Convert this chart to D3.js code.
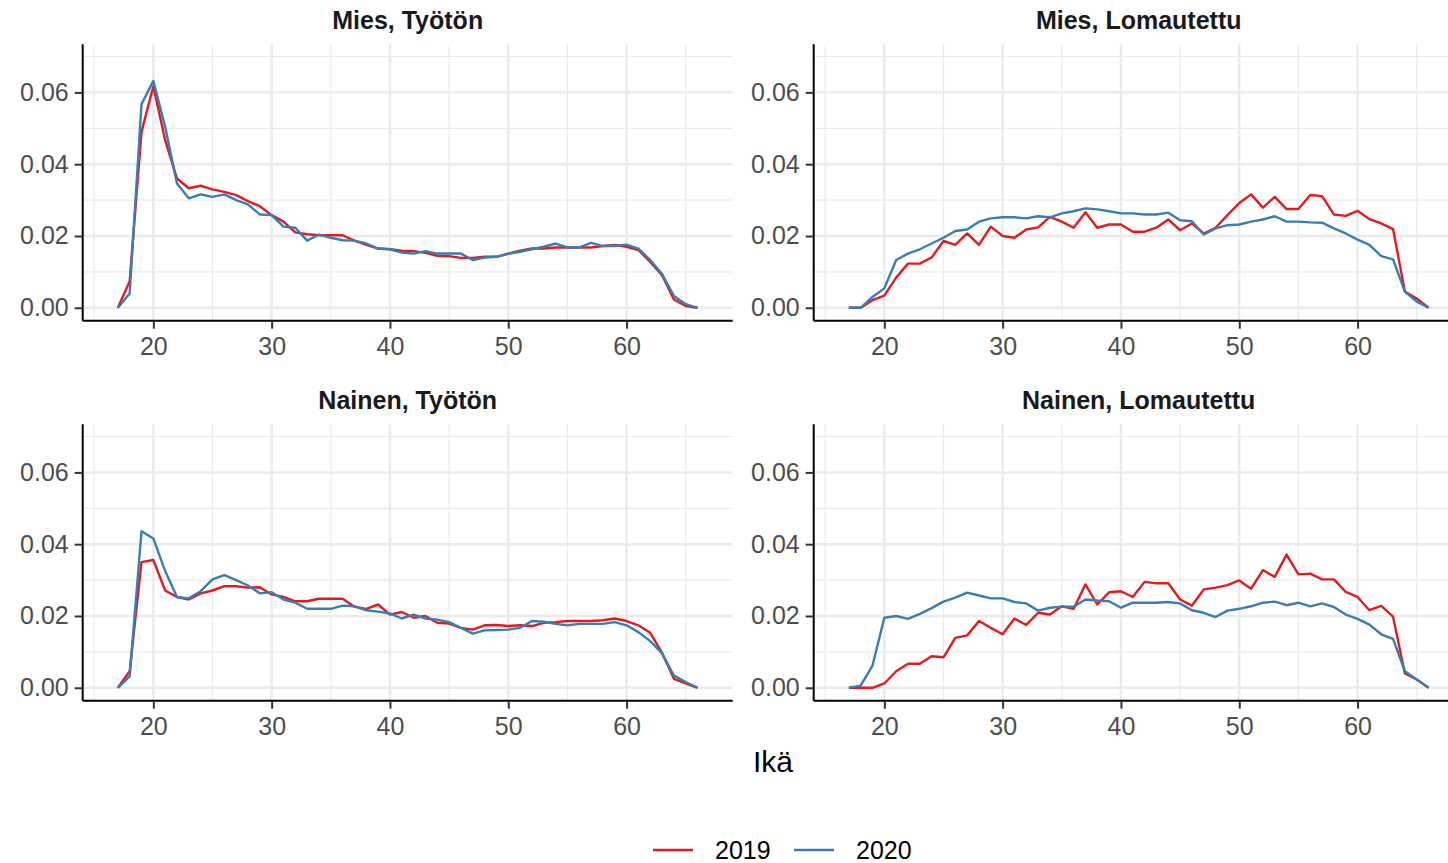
<!DOCTYPE html>
<html>
<head>
<meta charset="utf-8">
<script src="https://cdn.jsdelivr.net/npm/d3@7"></script>
<style>
  html, body { margin: 0; padding: 0; background: #ffffff; }
  svg { display: block; font-family: "Liberation Sans", Arial, sans-serif; }
</style>
</head>
<body>
<svg id="chart" width="1448" height="863"></svg>
<script>
const ages = d3.range(17, 67);
const years = ["2019", "2020"];
const panelTitles = ["Mies, Työtön", "Mies, Lomautettu", "Nainen, Työtön", "Nainen, Lomautettu"];
const xTicks = [20, 30, 40, 50, 60];
const yTicks = [0, 0.02, 0.04, 0.06];
const xAxisTitle = "Ikä";

const miesTyoton2019 = [0, 0.0074, 0.049, 0.0617, 0.0467, 0.036, 0.0333, 0.034, 0.033, 0.0323,
  0.0314, 0.0297, 0.0283, 0.0258, 0.024, 0.021, 0.0205, 0.0202, 0.0202, 0.0202,
  0.0187, 0.0175, 0.0165, 0.0163, 0.0159, 0.0158, 0.0153, 0.0145, 0.0144, 0.0139,
  0.0139, 0.0142, 0.0142, 0.0151, 0.0159, 0.0165, 0.0165, 0.0168, 0.0168, 0.0168,
  0.0168, 0.0172, 0.0175, 0.017, 0.0161, 0.0128, 0.0091, 0.0023, 0.0005, 0];
const miesTyoton2020 = [0, 0.004, 0.0567, 0.0632, 0.0504, 0.0346, 0.0305, 0.0316, 0.0309, 0.0316,
  0.030, 0.0288, 0.026, 0.0258, 0.0226, 0.0223, 0.0187, 0.0204, 0.0195, 0.0188,
  0.0187, 0.0179, 0.0165, 0.0163, 0.0154, 0.0151, 0.0158, 0.0151, 0.0151, 0.0151,
  0.0133, 0.014, 0.0142, 0.015, 0.0156, 0.0163, 0.017, 0.0179, 0.0168, 0.0168,
  0.0181, 0.0172, 0.0172, 0.0176, 0.0165, 0.0133, 0.0094, 0.0033, 0.001, 0];
const miesLomautettu2019 = [0, 0, 0.0021, 0.0034, 0.0084, 0.0123, 0.0123, 0.014, 0.0186, 0.0175,
  0.0207, 0.0175, 0.0226, 0.020, 0.0195, 0.0218, 0.0224, 0.0253, 0.024, 0.0223,
  0.0266, 0.0223, 0.0232, 0.0232, 0.0212, 0.0212, 0.0223, 0.0246, 0.0216, 0.0235,
  0.0207, 0.0223, 0.0258, 0.0292, 0.0316, 0.0279, 0.0309, 0.0275, 0.0275, 0.0314,
  0.0311, 0.026, 0.0256, 0.027, 0.0247, 0.0235, 0.0219, 0.0045, 0.0026, 0];
const miesLomautettu2020 = [0, 0, 0.003, 0.0054, 0.0133, 0.0151, 0.0163, 0.0179, 0.0195, 0.0214,
  0.0218, 0.024, 0.0249, 0.0252, 0.0252, 0.0249, 0.0255, 0.0252, 0.0263, 0.0269,
  0.0277, 0.0274, 0.0269, 0.0263, 0.0263, 0.026, 0.026, 0.0265, 0.0244, 0.0241,
  0.0204, 0.0221, 0.023, 0.0232, 0.024, 0.0246, 0.0255, 0.024, 0.024, 0.0238,
  0.0237, 0.0221, 0.0207, 0.019, 0.0175, 0.0144, 0.0135, 0.0045, 0.0017, 0];
const nainenTyoton2019 = [0, 0.0046, 0.035, 0.0356, 0.0271, 0.0253, 0.0246, 0.0263, 0.0271, 0.0283,
  0.0283, 0.0279, 0.028, 0.026, 0.0253, 0.0241, 0.0241, 0.0248, 0.0248, 0.0248,
  0.0226, 0.022, 0.0232, 0.0204, 0.0211, 0.0195, 0.020, 0.0181, 0.0179, 0.0167,
  0.0162, 0.0174, 0.0175, 0.0172, 0.0174, 0.0172, 0.0181, 0.0183, 0.0186, 0.0186,
  0.0186, 0.0188, 0.0193, 0.0186, 0.0174, 0.0153, 0.0097, 0.0025, 0.0012, 0];
const nainenTyoton2020 = [0, 0.0032, 0.0436, 0.0416, 0.0325, 0.0253, 0.0249, 0.0269, 0.0302, 0.0314,
  0.030, 0.0285, 0.0263, 0.0266, 0.0246, 0.0237, 0.022, 0.022, 0.022, 0.0229,
  0.0227, 0.0216, 0.0212, 0.0207, 0.0193, 0.0204, 0.0193, 0.019, 0.0183, 0.0167,
  0.0151, 0.016, 0.0161, 0.0162, 0.0167, 0.0186, 0.0184, 0.0178, 0.0174, 0.0178,
  0.0178, 0.0178, 0.0183, 0.0174, 0.0155, 0.013, 0.0096, 0.0034, 0.0016, 0];
const nainenLomautettu2019 = [0, 0, 0, 0.0012, 0.0046, 0.0067, 0.0067, 0.0088, 0.0085, 0.0139,
  0.0146, 0.0186, 0.0167, 0.0149, 0.0193, 0.0175, 0.0209, 0.0204, 0.0227, 0.022,
  0.0288, 0.0232, 0.0266, 0.0269, 0.0253, 0.0295, 0.0291, 0.0291, 0.0246, 0.0229,
  0.0274, 0.0279, 0.0286, 0.0299, 0.0276, 0.0328, 0.0309, 0.0371, 0.0316, 0.0318,
  0.0302, 0.0302, 0.0267, 0.0253, 0.0216, 0.0228, 0.0198, 0.004, 0.0023, 0];
const nainenLomautettu2020 = [0, 0.0006, 0.0062, 0.0195, 0.020, 0.0192, 0.0206, 0.0222, 0.024, 0.0251,
  0.0265, 0.0257, 0.0249, 0.0249, 0.0239, 0.0235, 0.0215, 0.0223, 0.0226, 0.0226,
  0.0246, 0.0243, 0.0241, 0.0223, 0.0237, 0.0237, 0.0237, 0.0239, 0.0235, 0.0216,
  0.0209, 0.0197, 0.0215, 0.022, 0.0227, 0.0237, 0.024, 0.023, 0.0237, 0.0227,
  0.0235, 0.0225, 0.0204, 0.0192, 0.0176, 0.0149, 0.0136, 0.0046, 0.0023, 0];

const panelSeries = [
  [miesTyoton2019, miesTyoton2020],
  [miesLomautettu2019, miesLomautettu2020],
  [nainenTyoton2019, nainenTyoton2020],
  [nainenLomautettu2019, nainenLomautettu2020]
];
const colors = d3.scaleOrdinal().domain(years).range(["#E41A1C", "#377EB8"]);

const svg = d3.select("#chart");
const panelW = 650;
const colX = [82.7, 813.7];
const rowY = [44.3, 424.3];
const panelH = 276.4;

const xDomain = [14.03, 68.97];
const yDomain = [-0.0036, 0.0734];
const fs = 25;

panelTitles.forEach((title, i) => {
  const c = i % 2, r = Math.floor(i / 2);
  const x0 = colX[c], y0 = rowY[r];
  const x = d3.scaleLinear().domain(xDomain).range([x0, x0 + panelW]);
  const y = d3.scaleLinear().domain(yDomain).range([y0 + panelH, y0]);
  const g = svg.append("g");

  // grid
  const minorX = [15, 25, 35, 45, 55, 65];
  const minorY = [0.01, 0.03, 0.05, 0.07];
  g.selectAll(".mnx").data(minorX).enter().append("line")
    .attr("x1", d => x(d)).attr("x2", d => x(d)).attr("y1", y0).attr("y2", y0 + panelH)
    .attr("stroke", "#EBEBEB").attr("stroke-width", 1.2);
  g.selectAll(".mny").data(minorY).enter().append("line")
    .attr("x1", x0).attr("x2", x0 + panelW).attr("y1", d => y(d)).attr("y2", d => y(d))
    .attr("stroke", "#EBEBEB").attr("stroke-width", 1.2);
  g.selectAll(".mjx").data(xTicks).enter().append("line")
    .attr("x1", d => x(d)).attr("x2", d => x(d)).attr("y1", y0).attr("y2", y0 + panelH)
    .attr("stroke", "#EBEBEB").attr("stroke-width", 2.4);
  g.selectAll(".mjy").data(yTicks).enter().append("line")
    .attr("x1", x0).attr("x2", x0 + panelW).attr("y1", d => y(d)).attr("y2", d => y(d))
    .attr("stroke", "#EBEBEB").attr("stroke-width", 2.4);

  // lines
  const line = d3.line().x((d, k) => x(ages[k])).y(d => y(d));
  panelSeries[i].forEach((vals, s) => {
    g.append("path").datum(vals).attr("d", line)
      .attr("fill", "none").attr("stroke", colors(years[s]))
      .attr("stroke-width", 2.4).attr("stroke-linejoin", "round");
  });

  // axes
  const ax = g.append("g").attr("transform", `translate(0,${y0 + panelH})`)
    .call(d3.axisBottom(x).tickValues(xTicks).tickSize(8).tickPadding(9).tickFormat(d3.format("d")));
  const ay = g.append("g").attr("transform", `translate(${x0},0)`)
    .call(d3.axisLeft(y).tickValues(yTicks).tickSize(8).tickPadding(6).tickFormat(d3.format(".2f")));
  [ax, ay].forEach(a => {
    a.select(".domain").attr("stroke", "#000").attr("stroke-width", 2);
    a.selectAll(".tick line").attr("stroke", "#333").attr("stroke-width", 2);
    a.selectAll(".tick text").attr("fill", "#4D4D4D").attr("font-size", fs)
      .attr("font-family", "'Liberation Sans', Arial, sans-serif");
  });
  ax.select(".domain").attr("d", `M${x0},0H${x0 + panelW}`);
  ay.select(".domain").attr("d", `M0,${y0}V${y0 + panelH}`);

  // strip title
  svg.append("text").attr("x", x0 + panelW / 2).attr("y", y0 - 15)
    .attr("text-anchor", "middle").attr("font-weight", "bold").attr("font-size", fs)
    .attr("fill", "#1A1A1A").text(title);
});

// x axis title
svg.append("text").attr("x", 773).attr("y", 772).attr("text-anchor", "middle")
  .attr("font-size", 30).attr("fill", "#000").text(xAxisTitle);

// legend
const legX = [653, 794];
years.forEach((yr, i) => {
  svg.append("line").attr("x1", legX[i]).attr("x2", legX[i] + 40).attr("y1", 850).attr("y2", 850)
    .attr("stroke", colors(yr)).attr("stroke-width", 2.6);
  svg.append("text").attr("x", legX[i] + 62).attr("y", 859).attr("font-size", fs)
    .attr("fill", "#000").text(yr);
});
</script>
</body>
</html>
